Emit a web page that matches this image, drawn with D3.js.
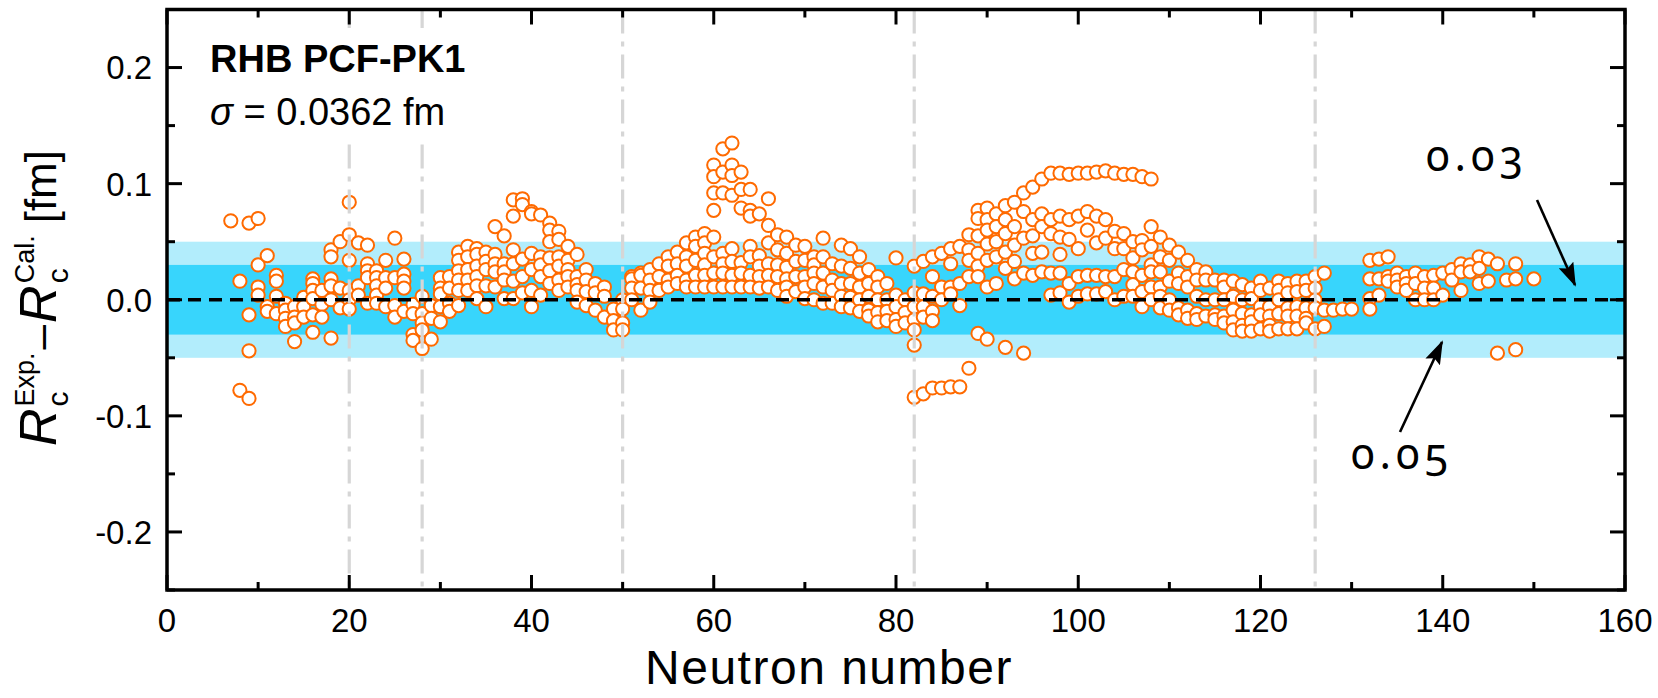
<!DOCTYPE html>
<html><head><meta charset="utf-8">
<script src="https://cdn.jsdelivr.net/npm/d3@7"></script>
<style>body{margin:0;background:#fff} svg{display:block}</style>
</head><body>
<svg id="chart" width="1658" height="698"></svg>
<script>
// ---- data: [neutron number, [R_exp - R_cal values in fm]] ----
const lightNuclei = [
  [7,[0.068]],[8,[0.016,-0.078]],[9,[0.066,-0.013,-0.044,-0.085]],[10,[0.070,0.030,0.011,0.004]],
  [11,[0.038,-0.006,-0.010]],[12,[0.021,0.016,0.003,-0.012]],[13,[-0.003,-0.009,-0.016,-0.023]],
  [14,[-0.006,-0.015,-0.020,-0.036]],[15,[0.002,-0.006,-0.015]],[16,[0.018,0.014,0.008,0.001,-0.013,-0.028]],
  [17,[0.008,-0.004,-0.015]],[18,[0.043,0.037,0.018,0.012,0.000,-0.033]],[19,[0.050,0.010,-0.007]],
  [20,[0.084,0.056,0.034,0.008,0.000,-0.008]],[21,[0.049,0.012,0.004]],[22,[0.047,0.031,0.025,0.019,-0.003]],
  [23,[0.025,0.019,0.012,0.004,-0.003]],[24,[0.034,0.019,0.010,-0.006]],[25,[0.053,0.019,-0.005,-0.015]],
  [26,[0.035,0.022,0.016,0.010,-0.010]],[27,[-0.004,-0.012,-0.030,-0.035]],[28,[0.003,-0.012,-0.020,-0.026,-0.042]],
  [29,[-0.005,-0.016,-0.034]],[30,[0.019,0.010,0.005,-0.006,-0.019]],[31,[0.020,0.010,-0.003,-0.010]]
];
const shellN28to50 = [
  [32,[0.041,0.034,0.025,0.017,0.008,-0.005]],[33,[0.046,0.037,0.026,0.017,0.008]],
  [34,[0.044,0.039,0.029,0.020,0.012,0.001]],[35,[0.041,0.033,0.026,0.012,-0.006]],
  [36,[0.063,0.039,0.031,0.024,0.011]],[37,[0.055,0.031,0.024,0.017,0.001]],
  [38,[0.086,0.072,0.043,0.031,0.016,0.001]],[39,[0.087,0.082,0.035,0.020,0.006]],
  [40,[0.076,0.074,0.040,0.026,0.008,-0.006]],[41,[0.073,0.037,0.030,0.020,0.004]],
  [42,[0.066,0.060,0.050,0.036,0.025,0.014]],[43,[0.059,0.052,0.037,0.029,0.017,0.008]],
  [44,[0.046,0.034,0.026,0.020,0.011]],[45,[0.039,0.020,0.013,0.008,-0.002]],
  [46,[0.026,0.017,0.007,-0.005]],[47,[0.014,0.006,-0.009]],[48,[0.011,0.003,-0.015]],
  [49,[-0.008,-0.018,-0.026]],[50,[0.000,-0.008,-0.020,-0.026]]
];
const shellN50to82 = [
  [51,[0.020,0.018,0.010,0.000]],[52,[0.023,0.021,0.010,-0.009]],[53,[0.026,0.017,0.008,-0.002]],
  [54,[0.031,0.020,0.008]],[55,[0.037,0.029,0.017,0.011]],[56,[0.041,0.031,0.021,0.014]],
  [57,[0.049,0.037,0.029,0.017,0.011]],[58,[0.054,0.046,0.034,0.021,0.011]],[59,[0.057,0.049,0.040,0.030,0.021,0.011]],
  [60,[0.116,0.106,0.092,0.077,0.054,0.037,0.023,0.011]],[61,[0.130,0.110,0.092,0.040,0.031,0.023,0.011]],
  [62,[0.135,0.116,0.107,0.090,0.044,0.033,0.021,0.011]],[63,[0.110,0.095,0.079,0.032,0.023,0.011]],
  [64,[0.095,0.077,0.072,0.046,0.037,0.021,0.011]],[65,[0.074,0.038,0.029,0.020,0.010]],
  [66,[0.087,0.064,0.049,0.031,0.021,0.011]],[67,[0.056,0.043,0.030,0.020,0.008]],
  [68,[0.054,0.040,0.028,0.018,0.011,0.003]],[69,[0.047,0.033,0.020,0.007]],[70,[0.046,0.034,0.020,0.011,0.001]],
  [71,[0.037,0.030,0.023,0.014,0.000]],[72,[0.053,0.037,0.023,0.011,-0.003]],[73,[0.031,0.017,0.008,-0.003]],
  [74,[0.047,0.029,0.014,0.003,-0.006]],[75,[0.044,0.027,0.014,0.002,-0.007]],
  [76,[0.037,0.023,0.011,0.000,-0.010]],[77,[0.026,0.014,0.003,-0.009,-0.014]],
  [78,[0.020,0.011,0.000,-0.011,-0.019]],[79,[0.014,0.000,-0.010,-0.018]],
  [80,[0.036,0.004,-0.006,-0.017,-0.023]],[81,[0.000,-0.011,-0.020]],
  [82,[0.029,0.006,-0.006,-0.017,-0.026,-0.039,-0.084]]
];
const shellN82to126 = [
  [83,[0.033,0.005,-0.006,-0.015,-0.081]],[84,[0.037,0.020,0.003,-0.010,-0.018,-0.076]],
  [85,[0.040,0.011,0.000,-0.076]],[86,[0.044,0.031,0.011,0.005,-0.075]],[87,[0.046,0.014,-0.005,-0.075]],
  [88,[0.056,0.043,0.034,0.020,-0.059]],[89,[0.077,0.070,0.055,0.040,0.029,0.020,-0.029]],
  [90,[0.079,0.069,0.060,0.048,0.034,0.011,-0.034]],[91,[0.074,0.063,0.050,0.037,0.014]],
  [92,[0.081,0.069,0.057,0.041,0.027,-0.041]],[93,[0.084,0.063,0.047,0.033,0.018]],
  [94,[0.092,0.076,0.053,0.023,-0.046]],[95,[0.097,0.069,0.055,0.040,0.021]],
  [96,[0.104,0.074,0.063,0.041,0.024]],[97,[0.109,0.069,0.057,0.023,0.004]],
  [98,[0.109,0.072,0.054,0.039,0.023,0.006]],[99,[0.108,0.069,0.052,0.014,-0.002]],
  [100,[0.109,0.072,0.044,0.020,0.003]],[101,[0.109,0.076,0.060,0.021,0.005]],
  [102,[0.110,0.072,0.049,0.021,0.005]],[103,[0.111,0.069,0.053,0.020,0.007]],
  [104,[0.109,0.059,0.044,0.020,0.000]],[105,[0.108,0.057,0.044,0.026,0.003]],
  [106,[0.108,0.050,0.036,0.024,0.013,0.003]],[107,[0.106,0.051,0.043,0.021,0.007,-0.006]],
  [108,[0.104,0.063,0.046,0.030,0.024,0.011,0.000]],[109,[0.054,0.037,0.024,0.011,0.003,-0.007]],
  [110,[0.047,0.034,0.016,0.000,-0.009]],[111,[0.041,0.023,0.014,-0.007,-0.013]],
  [112,[0.034,0.020,0.011,-0.009,-0.016]],[113,[0.026,0.017,0.003,-0.012,-0.017]],
  [114,[0.024,0.017,0.000,-0.014]],[115,[0.017,0.000,-0.013,-0.017]],
  [116,[0.017,0.011,0.000,-0.014,-0.020]],[117,[0.016,0.003,-0.009,-0.019,-0.026]],
  [118,[0.013,0.000,-0.012,-0.022,-0.027]],[119,[0.010,0.001,-0.013,-0.019,-0.027]],
  [120,[0.016,0.008,-0.006,-0.013,-0.025]],[121,[0.010,-0.006,-0.014,-0.022,-0.027]],
  [122,[0.016,0.008,0.000,-0.012,-0.025]],[123,[0.014,0.006,-0.007,-0.014,-0.025]],
  [124,[0.016,0.007,-0.006,-0.014,-0.025]],[125,[0.016,0.008,-0.007,-0.016,-0.020]],
  [126,[0.020,0.010,0.000,-0.007,-0.025]]
];
const heavyNuclei = [
  [127,[0.023,-0.009,-0.023]],[128,[-0.009]],[129,[-0.008]],[130,[-0.008]],
  [132,[0.034,0.018,0.001,-0.008]],[133,[0.035,0.018,0.004]],[134,[0.037,0.020,0.016]],
  [135,[0.023,0.017,0.011]],[136,[0.020,0.014,0.008]],[137,[0.023,0.014,0.000]],
  [138,[0.020,0.010,0.000]],[139,[0.021,0.010,0.000]],[140,[0.023,0.004]],[141,[0.026,0.017]],
  [142,[0.031,0.024,0.008]],[143,[0.030,0.024]],[144,[0.037,0.027,0.014]],[145,[0.035,0.016]],
  [146,[0.031,-0.046]],[147,[0.017]],[148,[0.031,0.018,-0.043]],[150,[0.018]]
];
const magicNumbers = [20, 28, 50, 82, 126];
const xTickValues = [0, 20, 40, 60, 80, 100, 120, 140, 160];
const yTickValues = [-0.2, -0.1, 0.0, 0.1, 0.2];
const yTickLabels = ["-0.2", "-0.1", "0.0", "0.1", "0.2"];
const bandInner = 0.03, bandOuter = 0.05;

// ---- layout ----
const svg = d3.select("#chart");
const L = 167, R = 1625, T = 9.5, B = 590;
const x = d3.scaleLinear().domain([0, 160]).range([L, R]);
const y = d3.scaleLinear().domain([-0.25, 0.25]).range([B, T]);
const FONT = "Liberation Sans, Arial, sans-serif";

// bands
svg.append("rect").attr("x", L).attr("width", R - L)
  .attr("y", y(bandOuter)).attr("height", y(-bandOuter) - y(bandOuter)).attr("fill", "#b2edfc");
svg.append("rect").attr("x", L).attr("width", R - L)
  .attr("y", y(bandInner)).attr("height", y(-bandInner) - y(bandInner)).attr("fill", "#38d5fc");

// points
const points = [].concat(lightNuclei, shellN28to50, shellN50to82, shellN82to126, heavyNuclei)
  .flatMap(([n, vals]) => vals.map(v => ({n, v})));
svg.append("g").selectAll("circle").data(points).join("circle")
  .attr("cx", d => x(d.n)).attr("cy", d => y(d.v)).attr("r", 6.6)
  .attr("fill", "#fff").attr("stroke", "#ff6a00").attr("stroke-width", 2);

// magic number lines
svg.append("g").selectAll("line").data(magicNumbers).join("line")
  .attr("x1", d => x(d)).attr("x2", d => x(d)).attr("y1", T).attr("y2", B)
  .attr("stroke", "#d6d6d6").attr("stroke-width", 3.2).attr("stroke-dasharray", "24,8,5,8");

// zero line
svg.append("line").attr("x1", L).attr("x2", R).attr("y1", y(0)).attr("y2", y(0))
  .attr("stroke", "#000").attr("stroke-width", 3.5).attr("stroke-dasharray", "13,8");

// label box
svg.append("rect").attr("x", 195).attr("y", 28).attr("width", 290).attr("height", 112).attr("fill", "#fff");
svg.append("text").attr("x", 210).attr("y", 72).attr("font-family", FONT).attr("font-size", 38)
  .attr("font-weight", "bold").text("RHB PCF-PK1");
const sig = svg.append("text").attr("x", 210).attr("y", 125).attr("font-family", FONT).attr("font-size", 38);
sig.append("tspan").attr("font-style", "italic").text("σ");
sig.append("tspan").text(" = 0.0362 fm");

// axes (ticks inward on all sides)
const major = 15, minor = 8;
const axG = svg.append("g").attr("stroke", "#000").attr("stroke-width", 3);
const xMinor = d3.range(0, 161, 10);
const yMinor = d3.range(-0.25, 0.2501, 0.05).map(v => +v.toFixed(2));
xMinor.forEach(v => {
  const len = v % 20 === 0 ? major : minor;
  axG.append("line").attr("x1", x(v)).attr("x2", x(v)).attr("y1", B).attr("y2", B - len);
  axG.append("line").attr("x1", x(v)).attr("x2", x(v)).attr("y1", T).attr("y2", T + len);
});
yMinor.forEach(v => {
  const len = Math.abs(Math.round(v * 100)) % 10 === 0 ? major : minor;
  axG.append("line").attr("y1", y(v)).attr("y2", y(v)).attr("x1", L).attr("x2", L + len);
  axG.append("line").attr("y1", y(v)).attr("y2", y(v)).attr("x1", R).attr("x2", R - len);
});
svg.append("rect").attr("x", L).attr("y", T).attr("width", R - L).attr("height", B - T)
  .attr("fill", "none").attr("stroke", "#000").attr("stroke-width", 3.5);

svg.append("g").selectAll("text").data(xTickValues).join("text")
  .attr("x", d => x(d)).attr("y", 632).attr("text-anchor", "middle")
  .attr("font-family", FONT).attr("font-size", 33).text(d => d);
svg.append("g").selectAll("text").data(yTickValues).join("text")
  .attr("x", 152).attr("y", d => y(d)).attr("dy", "0.36em").attr("text-anchor", "end")
  .attr("font-family", FONT).attr("font-size", 33).text((d, i) => yTickLabels[i]);

// x title
svg.append("text").attr("x", 829).attr("y", 684).attr("text-anchor", "middle")
  .attr("font-family", FONT).attr("font-size", 48).attr("letter-spacing", 1.5).text("Neutron number");

// y title
const yt = svg.append("g").attr("transform", "translate(56,298) rotate(-90)")
  .attr("font-family", FONT);
const pieces = [
  {t: "R", size: 52, italic: true},
  {sub: "c", sup: "Exp."},
  {t: "–", size: 44, dx: 3},
  {t: "R", size: 52, italic: true, dx: 2},
  {sub: "c", sup: "Cal."},
  {t: "[fm]", size: 44, dx: 12}
];
let cur = 0;
pieces.forEach(p => {
  if (p.t) {
    cur += p.dx || 0;
    const n = yt.append("text").attr("x", cur).attr("y", 0).attr("font-size", p.size)
      .attr("font-style", p.italic ? "italic" : null).text(p.t);
    cur += n.node().getComputedTextLength();
  } else {
    const s1 = yt.append("text").attr("x", cur + 2).attr("y", 12).attr("font-size", 30).text(p.sub);
    const s2 = yt.append("text").attr("x", cur + 2).attr("y", -22).attr("font-size", 27).text(p.sup);
    cur += 2 + Math.max(s1.node().getComputedTextLength(), s2.node().getComputedTextLength());
  }
});
yt.selectAll("text").attr("x", function () { return +d3.select(this).attr("x") - cur / 2; });

// annotations
const defs = svg.append("defs");
defs.append("marker").attr("id", "ah").attr("viewBox", "0 0 24 16").attr("refX", 22).attr("refY", 8)
  .attr("markerWidth", 24).attr("markerHeight", 16).attr("markerUnits", "userSpaceOnUse")
  .attr("orient", "auto").append("path").attr("d", "M0,0 L24,8 L0,16 L4,8 Z").attr("fill", "#000");
svg.append("line").attr("x1", 1537).attr("y1", 200).attr("x2", 1575).attr("y2", 285)
  .attr("stroke", "#000").attr("stroke-width", 2.6).attr("marker-end", "url(#ah)");
svg.append("line").attr("x1", 1400).attr("y1", 432).attr("x2", 1442).attr("y2", 342)
  .attr("stroke", "#000").attr("stroke-width", 2.6).attr("marker-end", "url(#ah)");
const annStyle = s => s.attr("font-family", "Noto Sans, sans-serif").attr("font-size", 43)
  .attr("letter-spacing", 5).style("font-variant-numeric", "oldstyle-nums");
annStyle(svg.append("text").attr("x", 1426).attr("y", 171).text("0.03"));
annStyle(svg.append("text").attr("x", 1351).attr("y", 469).text("0.05"));
</script>
</body></html>
